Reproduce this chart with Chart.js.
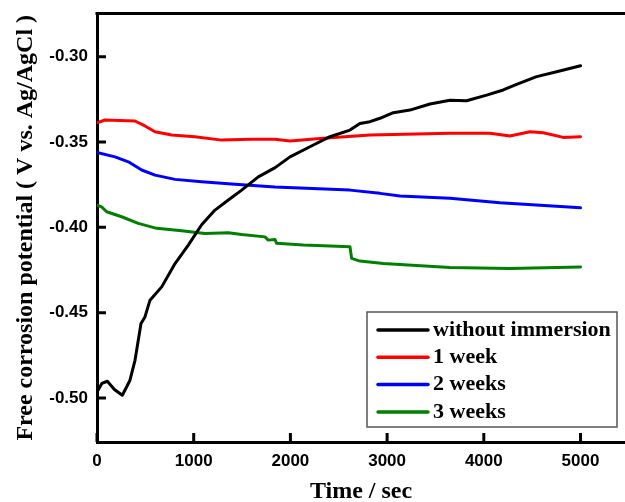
<!DOCTYPE html>
<html>
<head>
<meta charset="utf-8">
<script src="https://cdn.jsdelivr.net/npm/chart.js@4.4.1/dist/chart.umd.min.js"></script>
<style>
  body { margin: 0; background: #fff; }
  #wrap { width: 625px; height: 502px; }
</style>
</head>
<body>
<div id="wrap"><canvas id="ocp" width="625" height="502"></canvas></div>
<script>
// free corrosion potential vs time
var seriesNames = ['without immersion', '1 week', '2 weeks', '3 weeks'];
var seriesColors = ['#000000', '#ff0000', '#0000ff', '#008000'];

var timeNoImm = [0, 50, 107, 180, 262, 341, 393, 455, 496, 548, 669, 807, 944, 1082, 1220, 1358, 1496, 1668, 1842, 1996, 2202, 2409, 2616, 2719, 2823, 2926, 3064, 3236, 3443, 3650, 3822, 4029, 4201, 4339, 4546, 4753, 5000];
var potNoImm = [-0.4965, -0.4915, -0.4902, -0.4950, -0.4984, -0.4896, -0.4779, -0.4564, -0.4525, -0.4427, -0.4349, -0.4212, -0.4104, -0.3985, -0.3899, -0.3840, -0.3782, -0.3704, -0.3650, -0.3587, -0.3528, -0.3469, -0.3430, -0.3391, -0.3381, -0.3361, -0.3328, -0.3313, -0.3277, -0.3255, -0.3258, -0.3225, -0.3195, -0.3162, -0.3117, -0.3088, -0.3053];

var time1w = [0, 83, 393, 496, 600, 772, 1013, 1289, 1600, 1840, 1996, 2306, 2823, 3650, 4064, 4270, 4477, 4615, 4822, 5000];
var pot1w = [-0.3387, -0.3371, -0.3377, -0.3406, -0.3440, -0.3459, -0.3469, -0.3489, -0.3484, -0.3484, -0.3494, -0.3479, -0.3459, -0.3449, -0.3449, -0.3465, -0.3440, -0.3446, -0.3473, -0.3469];

var time2w = [0, 186, 324, 462, 600, 807, 1082, 1427, 1840, 2616, 2926, 3133, 3650, 4167, 5000];
var pot2w = [-0.3561, -0.3587, -0.3616, -0.3664, -0.3694, -0.3719, -0.3733, -0.3748, -0.3764, -0.3782, -0.3801, -0.3817, -0.3830, -0.3856, -0.3886];

var time3w = [0, 48, 100, 255, 427, 617, 876, 1117, 1358, 1496, 1737, 1771, 1840, 1858, 2133, 2616, 2633, 2719, 2961, 3650, 4270, 5000];
var pot3w = [-0.3870, -0.3880, -0.3909, -0.3938, -0.3977, -0.4006, -0.4020, -0.4036, -0.4032, -0.4042, -0.4056, -0.4075, -0.4071, -0.4094, -0.4104, -0.4114, -0.4182, -0.4198, -0.4212, -0.4235, -0.4241, -0.4232];

var xTicks = [0, 1000, 2000, 3000, 4000, 5000];
var yTicks = [-0.50, -0.45, -0.40, -0.35, -0.30];
var xTitle = 'Time / sec';
var yTitle = 'Free corrosion potential ( V vs. Ag/AgCl )';

function pairs(xs, ys) {
  return xs.map(function (x, i) { return { x: x, y: ys[i] }; });
}

var allTimes = [timeNoImm, time1w, time2w, time3w];
var allPots = [potNoImm, pot1w, pot2w, pot3w];

var datasets = seriesNames.map(function (name, i) {
  return {
    label: name,
    data: pairs(allTimes[i], allPots[i]),
    borderColor: seriesColors[i],
    backgroundColor: seriesColors[i],
    borderWidth: 3,
    pointRadius: 0,
    tension: 0,
    borderJoinStyle: 'round',
    borderCapStyle: 'round'
  };
});

// frame top edge, inward ticks, axis titles and boxed legend
var decorations = {
  id: 'decorations',
  afterDraw: function (chart) {
    var ctx = chart.ctx;
    var a = chart.chartArea;
    var xs = chart.scales.x, ys = chart.scales.y;
    ctx.save();
    ctx.strokeStyle = '#000';
    ctx.lineWidth = 3;
    ctx.beginPath();
    ctx.moveTo(a.left - 1.5, a.top);
    ctx.lineTo(a.right, a.top);
    ctx.stroke();

    ctx.beginPath();
    xTicks.forEach(function (v) {
      var px = xs.getPixelForValue(v);
      ctx.moveTo(px, a.bottom);
      ctx.lineTo(px, a.bottom - 9);
    });
    yTicks.forEach(function (v) {
      var py = ys.getPixelForValue(v);
      ctx.moveTo(a.left, py);
      ctx.lineTo(a.left + 9, py);
    });
    ctx.stroke();

    // axis titles
    ctx.fillStyle = '#000';
    ctx.font = "bold 24px 'Liberation Serif'";
    ctx.textAlign = 'center';
    ctx.textBaseline = 'middle';
    ctx.fillText(xTitle, (a.left + a.right) / 2, 492);
    ctx.save();
    ctx.translate(26, (a.top + a.bottom) / 2);
    ctx.rotate(-Math.PI / 2);
    ctx.fillText(yTitle, 0, 0);
    ctx.restore();

    // legend
    var bx = 367, by = 312, bw = 250, bh = 115;
    ctx.fillStyle = '#fff';
    ctx.fillRect(bx, by, bw, bh);
    ctx.strokeStyle = '#555';
    ctx.lineWidth = 1.5;
    ctx.strokeRect(bx, by, bw, bh);
    ctx.font = "bold 22px 'Liberation Serif'";
    ctx.textAlign = 'left';
    ctx.lineCap = 'round';
    chart.data.datasets.forEach(function (ds, i) {
      var cy = 330 + i * 27.3;
      ctx.strokeStyle = ds.borderColor;
      ctx.lineWidth = 3.5;
      ctx.beginPath();
      ctx.moveTo(378, cy);
      ctx.lineTo(428, cy);
      ctx.stroke();
      ctx.fillStyle = '#000';
      ctx.fillText(ds.label, 433, cy);
    });
    ctx.restore();
  }
};

new Chart(document.getElementById('ocp').getContext('2d'), {
  type: 'line',
  data: { datasets: datasets },
  options: {
    responsive: false,
    animation: false,
    devicePixelRatio: 1,
    layout: { padding: { top: 13.5, right: 0, left: 0, bottom: 0 } },
    plugins: { legend: { display: false }, tooltip: { enabled: false } },
    scales: {
      x: {
        type: 'linear',
        min: 0,
        max: 5460,
        afterFit: function (s) { s.height = 60; s.paddingLeft = 0; s.paddingRight = 0; },
        afterBuildTicks: function (s) { s.ticks = xTicks.map(function (v) { return { value: v }; }); },
        grid: { display: false, drawTicks: false, tickLength: 0 },
        border: { display: true, color: '#000', width: 3 },
        ticks: {
          padding: 9,
          color: '#000',
          font: { family: "'Liberation Sans'", size: 17, weight: 'bold' },
          maxRotation: 0,
          callback: function (v) { return String(v); }
        }
      },
      y: {
        type: 'linear',
        min: -0.5258,
        max: -0.2747,
        afterFit: function (s) { s.width = 97; s.paddingTop = 0; s.paddingBottom = 0; },
        afterBuildTicks: function (s) { s.ticks = yTicks.map(function (v) { return { value: v }; }); },
        grid: { display: false, drawTicks: false, tickLength: 0 },
        border: { display: true, color: '#000', width: 3 },
        ticks: {
          padding: 9,
          color: '#000',
          font: { family: "'Liberation Sans'", size: 17, weight: 'bold' },
          callback: function (v) { return v.toFixed(2); }
        }
      }
    }
  },
  plugins: [decorations]
});
</script>
</body>
</html>
